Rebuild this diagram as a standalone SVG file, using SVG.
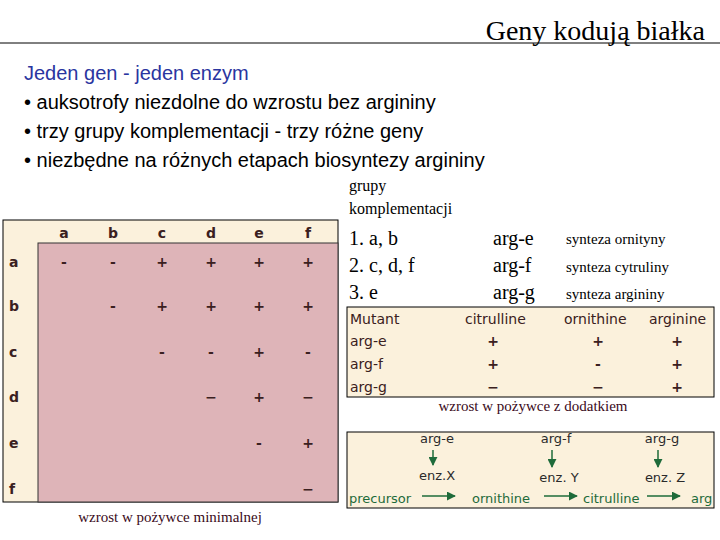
<svg xmlns="http://www.w3.org/2000/svg" width="720" height="540" viewBox="0 0 720 540">
<defs>
<style>
.s{font-family:"Liberation Serif",serif;fill:#000}
.b{font-family:"Liberation Sans",Arial,sans-serif;font-size:20px;fill:#000}
.c{font-family:"DejaVu Sans",sans-serif;font-size:14px;fill:#3a2020;font-weight:bold}
.t{font-family:"DejaVu Sans",sans-serif;font-size:14px;fill:#3a2020}
.cg{font-family:"DejaVu Sans",sans-serif;font-size:13px;fill:#2a2a2a}
.g{font-family:"DejaVu Sans",sans-serif;font-size:13px;fill:#1e6b3a}
.m{text-anchor:middle}
.lab{font-family:"Liberation Serif",serif;font-size:15px;fill:#3a0a1a;text-anchor:middle}
</style>
<marker id="ah" viewBox="0 0 10 10" refX="9" refY="5" markerWidth="6" markerHeight="6" orient="auto"><path d="M0,0L10,5L0,10z" fill="#1e6b3a"/></marker>
</defs>
<rect width="720" height="540" fill="#fff"/>
<text class="s" x="705" y="40" font-size="28" text-anchor="end">Geny kodują białka</text>
<line x1="0" y1="43" x2="720" y2="43" stroke="#000" stroke-width="1"/>
<g id="bullets">
<text class="b" x="24" y="80" style="fill:#2a35a0">Jeden gen - jeden enzym</text>
<text class="b" x="24" y="109">• auksotrofy niezdolne do wzrostu bez argininy</text>
<text class="b" x="24" y="138">• trzy grupy komplementacji - trzy różne geny</text>
<text class="b" x="24" y="167">• niezbędne na różnych etapach biosyntezy argininy</text>
</g>
<g id="groups">
<text class="s" x="349" y="191" font-size="16">grupy</text>
<text class="s" x="349" y="214" font-size="16">komplementacji</text>
<text class="s" x="349" y="245" font-size="20">1. a, b</text>
<text class="s" x="349" y="272" font-size="20">2. c, d, f</text>
<text class="s" x="349" y="299" font-size="20">3. e</text>
<text class="s" x="493" y="245" font-size="20">arg-e</text>
<text class="s" x="493" y="272" font-size="20">arg-f</text>
<text class="s" x="493" y="299" font-size="20">arg-g</text>
<text class="s" x="566" y="244" font-size="15">synteza ornityny</text>
<text class="s" x="566" y="272" font-size="15">synteza cytruliny</text>
<text class="s" x="566" y="299" font-size="15">synteza argininy</text>
</g>
<g id="matrix">
<rect x="3" y="220" width="335" height="282" fill="#fbf1dc" stroke="#000"/>
<rect x="38" y="243" width="300" height="259" fill="#deb4b8" stroke="#333"/>
<g class="c m">
<text x="64" y="238">a</text><text x="113" y="238">b</text><text x="162" y="238">c</text><text x="211" y="238">d</text><text x="259" y="238">e</text><text x="308" y="238">f</text>
</g>
<g class="c">
<text x="9" y="267">a</text><text x="9" y="311">b</text><text x="9" y="357">c</text><text x="9" y="402">d</text><text x="9" y="448">e</text><text x="9" y="494">f</text>
</g>
<g class="c m">
<text x="64" y="267">-</text><text x="113" y="267">-</text><text x="162" y="267">+</text><text x="211" y="267">+</text><text x="259" y="267">+</text><text x="308" y="267">+</text>
<text x="113" y="311">-</text><text x="162" y="311">+</text><text x="211" y="311">+</text><text x="259" y="311">+</text><text x="308" y="311">+</text>
<text x="162" y="357">-</text><text x="211" y="357">-</text><text x="259" y="357">+</text><text x="308" y="357">-</text>
<text x="211" y="402">−</text><text x="259" y="402">+</text><text x="308" y="402">−</text>
<text x="259" y="448">-</text><text x="308" y="448">+</text>
<text x="308" y="494">−</text>
</g>
<text class="lab" x="170" y="522">wzrost w pożywce minimalnej</text>
</g>
<g id="supplement">
<rect x="347" y="307" width="367" height="90" fill="#fbf1dc" stroke="#000"/>
<g class="t">
<text x="350" y="324">Mutant</text><text x="465" y="324">citrulline</text><text x="564" y="324">ornithine</text><text x="649" y="324">arginine</text>
<text x="350" y="346">arg-e</text><text x="350" y="369">arg-f</text><text x="350" y="392">arg-g</text>
</g>
<g class="c m">
<text x="493" y="346">+</text><text x="598" y="346">+</text><text x="677" y="346">+</text>
<text x="493" y="369">+</text><text x="598" y="369">-</text><text x="677" y="369">+</text>
<text x="493" y="392">−</text><text x="598" y="392">−</text><text x="677" y="392">+</text>
</g>
<text class="lab" x="533" y="411">wzrost w pożywce z dodatkiem</text>
</g>
<g id="pathway">
<rect x="347" y="432" width="367" height="76" fill="#fbf1dc" stroke="#000"/>
<g class="cg m">
<text x="437" y="443">arg-e</text><text x="556" y="443">arg-f</text><text x="662" y="443">arg-g</text>
<text x="437" y="480">enz.X</text><text x="559" y="482">enz. Y</text><text x="665" y="482">enz. Z</text>
</g>
<g class="g">
<text x="349" y="503">precursor</text><text x="472" y="503">ornithine</text><text x="583" y="503">citrulline</text><text x="691" y="503">arg</text>
</g>
</g>
<g id="connectors" stroke="#1e6b3a" stroke-width="1.5" marker-end="url(#ah)">
<line x1="433" y1="450" x2="433" y2="465"/>
<line x1="552" y1="450" x2="552" y2="467"/>
<line x1="658" y1="450" x2="658" y2="467"/>
<line x1="422" y1="496" x2="455" y2="496"/>
<line x1="544" y1="496" x2="577" y2="496"/>
<line x1="647" y1="496" x2="680" y2="496"/>
</g>
</svg>
